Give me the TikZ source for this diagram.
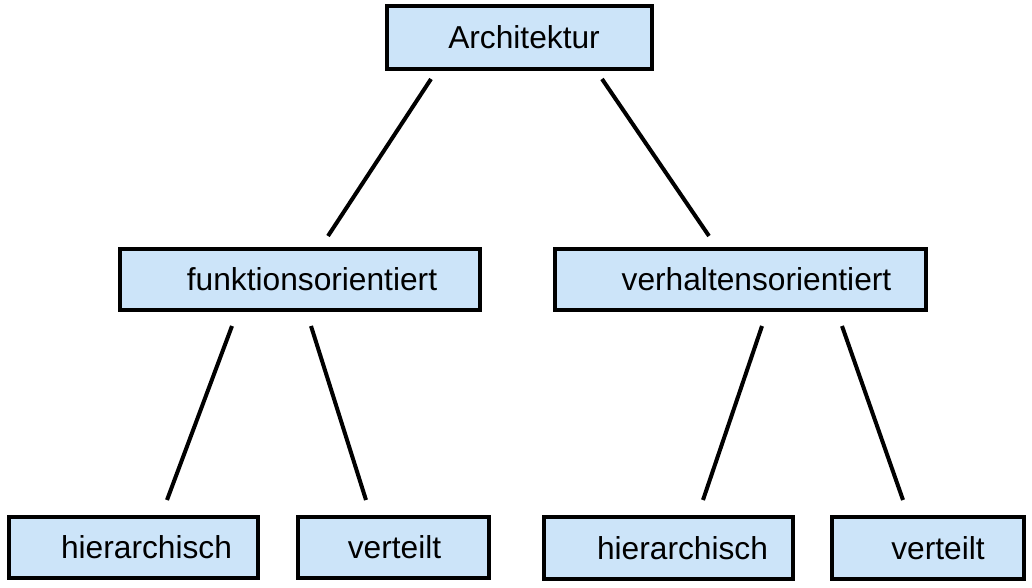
\documentclass[tikz,border=0pt]{standalone}
\usepackage{fontspec}
\setmainfont{Liberation Sans}
\definecolor{boxblue}{RGB}{204,228,249}

\begin{document}
\begin{tikzpicture}[
    x=1pt, y=-1pt,
    every node/.style={font=\fontsize{31.7}{38}\selectfont},
    box/.style={draw, line width=4pt, fill=boxblue, text=black, inner sep=0pt, minimum height=61pt},
    link/.style={line width=4pt}
]
    \useasboundingbox (0,0) rectangle (1032,588);

    \node[box, minimum width=265pt, minimum height=63pt] (arch) at (519.5, 37.5) {\hspace*{9pt}Architektur};

    \node[box, minimum width=360pt] (funk) at (300, 279.5) {\hspace*{24pt}funktionsorientiert};
    \node[box, minimum width=371pt] (verh) at (740.5, 279.5) {\hspace*{32pt}verhaltensorientiert};

    \node[box, minimum width=249pt] (hier1) at (133.5, 547.5) {\hspace*{26pt}hierarchisch};
    \node[box, minimum width=191pt] (vert1) at (393.5, 547.5) {\hspace*{2pt}verteilt};
    \node[box, minimum width=249pt, minimum height=62pt] (hier2) at (668.5, 548) {\hspace*{28pt}hierarchisch};
    \node[box, minimum width=192pt, minimum height=62pt] (vert2) at (928, 548) {\hspace*{20pt}verteilt};

    \draw[link] ([xshift=46pt, yshift=-8pt]arch.south west) -- ([xshift=210pt, yshift=11pt]funk.north west);
    \draw[link] ([xshift=217pt, yshift=-8pt]arch.south west) -- ([xshift=156pt, yshift=11pt]verh.north west);
    \draw[link] ([xshift=114pt, yshift=-14pt]funk.south west) -- ([xshift=160pt, yshift=15pt]hier1.north west);
    \draw[link] ([xshift=193pt, yshift=-14pt]funk.south west) -- ([xshift=70pt, yshift=15pt]vert1.north west);
    \draw[link] ([xshift=209pt, yshift=-14pt]verh.south west) -- ([xshift=161pt, yshift=15pt]hier2.north west);
    \draw[link] ([xshift=289pt, yshift=-14pt]verh.south west) -- ([xshift=73pt, yshift=15pt]vert2.north west);
\end{tikzpicture}
\end{document}
